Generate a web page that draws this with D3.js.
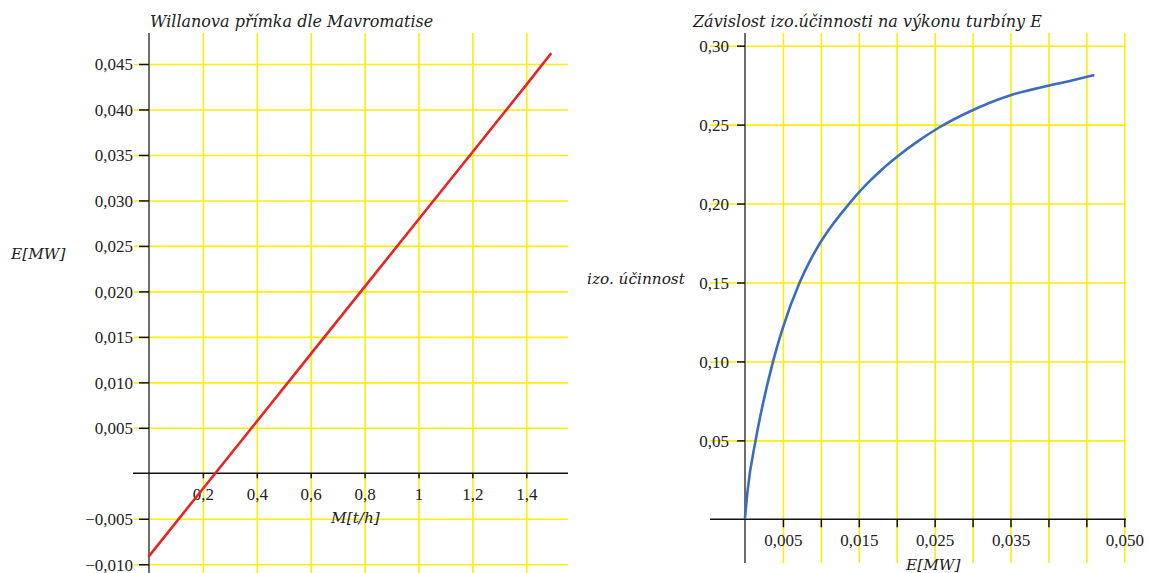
<!DOCTYPE html>
<html><head><meta charset="utf-8">
<script src="https://cdn.jsdelivr.net/npm/d3@7"></script>
<style>
body{margin:0;background:#fff;}
svg{display:block;}
.tl{font-family:"Liberation Serif","Times New Roman",serif;font-size:17px;fill:#222;}
.it{font-family:"DejaVu Serif",serif;font-style:italic;font-size:15.3px;fill:#222;}
.ti{font-family:"DejaVu Serif",serif;font-style:italic;font-size:16px;fill:#222;}
</style></head><body>
<svg id="c" width="1149" height="573"></svg>
<script>
// ---- Left chart data: Willanova přímka ----
const leftTitle = "Willanova přímka dle Mavromatise";
const leftXLabel = "M[t/h]";
const leftYLabel = "E[MW]";
const massFlow = [0, 0.2, 0.4, 0.6, 0.8, 1.0, 1.2, 1.4, 1.49];
const power = [-0.0091, -0.0017, 0.0057, 0.0131, 0.0205, 0.0279, 0.0353, 0.0427, 0.0461];
const leftXTicks = [0.2, 0.4, 0.6, 0.8, 1.0, 1.2, 1.4];
const leftYTicks = [-0.010, -0.005, 0.005, 0.010, 0.015, 0.020, 0.025, 0.030, 0.035, 0.040, 0.045];

// ---- Right chart data: izo. účinnost vs E ----
const rightTitle = "Závislost izo.účinnosti na výkonu turbíny E";
const rightXLabel = "E[MW]";
const rightYLabel = "izo. účinnost";
const turbinePower = [0, 0.0003, 0.0014, 0.0022, 0.0037, 0.0049, 0.0072, 0.0086, 0.0099, 0.0116, 0.0134, 0.0149, 0.0165, 0.0178, 0.0200, 0.0231, 0.0257, 0.0297, 0.0349, 0.0398, 0.0428, 0.0459];
const efficiency = [0.001, 0.0165, 0.050, 0.0695, 0.100, 0.120, 0.150, 0.164, 0.175, 0.187, 0.198, 0.2065, 0.2145, 0.2205, 0.2295, 0.2405, 0.2485, 0.2585, 0.2685, 0.2745, 0.2777, 0.2812];
const rightXTicks = [0.005, 0.010, 0.015, 0.020, 0.025, 0.030, 0.035, 0.040, 0.045, 0.050];
const rightXLabelled = [0.005, 0.015, 0.025, 0.035, 0.050];
const rightYTicks = [0.05, 0.10, 0.15, 0.20, 0.25, 0.30];

const loc = d3.formatLocale({decimal: ",", thousands: " ", grouping: [3], currency: ["", ""], minus: "\u2212"});
const svg = d3.select("#c");
const GRID = "#fbee0a", AXIS = "#3c3c3c";

function drawChart(o) {
  const g = svg.append("g");
  const x = o.x, y = o.y;
  const [gx0, gx1] = o.gridX, [gy0, gy1] = o.gridY;
  // vertical gridlines
  g.append("g").attr("transform", `translate(0,${gy1})`)
    .call(d3.axisTop(x).tickValues(o.xTicks).tickSize(gy1 - gy0).tickFormat(""))
    .call(s => s.select(".domain").remove())
    .call(s => s.selectAll("line").attr("stroke", GRID).attr("stroke-width", 1.6));
  // horizontal gridlines
  g.append("g").attr("transform", `translate(${gx0},0)`)
    .call(d3.axisRight(y).tickValues(o.yTicks).tickSize(gx1 - gx0).tickFormat(""))
    .call(s => s.select(".domain").remove())
    .call(s => s.selectAll("line").attr("stroke", GRID).attr("stroke-width", 1.6));
  // y axis line
  g.append("line").attr("x1", x(0)).attr("x2", x(0)).attr("y1", gy0).attr("y2", o.yAxisBottom)
    .attr("stroke", AXIS).attr("stroke-width", 1.5);
  // x axis line
  g.append("line").attr("x1", o.xAxisLeft).attr("x2", gx1).attr("y1", y(0)).attr("y2", y(0))
    .attr("stroke", "#111").attr("stroke-width", 1.5);
  // y ticks + labels
  const ya = g.append("g").attr("transform", `translate(${x(0)},0)`)
    .call(d3.axisLeft(y).tickValues(o.yTicks).tickSize(o.yTickLen).tickPadding(o.yPad).tickFormat(o.yFmt));
  ya.select(".domain").remove();
  ya.selectAll("line").attr("stroke", "#111").attr("stroke-width", 1.5);
  ya.selectAll("text").attr("class", "tl").attr("dy", "0.35em");
  // x ticks + labels
  const xa = g.append("g").attr("transform", `translate(0,${y(0)})`)
    .call(d3.axisBottom(x).tickValues(o.xTicks).tickSize(o.xTickLen).tickPadding(o.xPad).tickFormat(o.xFmt));
  xa.select(".domain").remove();
  xa.selectAll("line").attr("stroke", "#111").attr("stroke-width", 1.5);
  xa.selectAll("text").attr("class", "tl");
  // line
  const pts = o.xs.map((v, i) => [v, o.ys[i]]);
  g.append("path").datum(pts)
    .attr("d", d3.line().x(d => x(d[0])).y(d => y(d[1])).curve(o.curve))
    .attr("fill", "none").attr("stroke", o.color).attr("stroke-width", 2.6)
    .attr("stroke-linecap", "round").attr("stroke-linejoin", "round");
  // titles & labels
  g.append("text").attr("class", "ti").attr("x", o.titlePos[0]).attr("y", o.titlePos[1]).text(o.title);
  g.append("text").attr("class", "it").attr("x", o.yLabPos[0]).attr("y", o.yLabPos[1]).text(o.yLabel);
  g.append("text").attr("class", "it").attr("x", o.xLabPos[0]).attr("y", o.xLabPos[1]).text(o.xLabel);
}

drawChart({
  x: d3.scaleLinear().domain([0, 1.4]).range([149, 526.3]),
  y: d3.scaleLinear().domain([0, 0.045]).range([473.3, 64]),
  gridX: [134, 568], gridY: [33, 573], yAxisBottom: 573, xAxisLeft: 133,
  xTicks: leftXTicks, yTicks: leftYTicks,
  xFmt: loc.format("~g"), yFmt: loc.format(".3f"),
  yTickLen: 10, yPad: 6, xTickLen: 5, xPad: 10,
  xs: massFlow, ys: power, color: "#ea2323", curve: d3.curveLinear,
  title: leftTitle, titlePos: [150, 27],
  yLabel: leftYLabel, yLabPos: [11, 259],
  xLabel: leftXLabel, xLabPos: [331, 523]
});

drawChart({
  x: d3.scaleLinear().domain([0, 0.05]).range([745, 1124.3]),
  y: d3.scaleLinear().domain([0, 0.30]).range([519.3, 45.7]),
  gridX: [710, 1126], gridY: [33, 563], yAxisBottom: 563, xAxisLeft: 710,
  xTicks: rightXTicks, yTicks: rightYTicks,
  xFmt: d => rightXLabelled.some(v => Math.abs(v - d) < 1e-9) ? loc.format(".3f")(d) : "",
  yFmt: loc.format(".2f"),
  yTickLen: 8, yPad: 8, xTickLen: 8, xPad: 7,
  xs: turbinePower, ys: efficiency, color: "#3b6cc0", curve: d3.curveMonotoneX,
  title: rightTitle, titlePos: [693, 27],
  yLabel: rightYLabel, yLabPos: [587, 284],
  xLabel: rightXLabel, xLabPos: [906, 570]
});
</script>
</body></html>
